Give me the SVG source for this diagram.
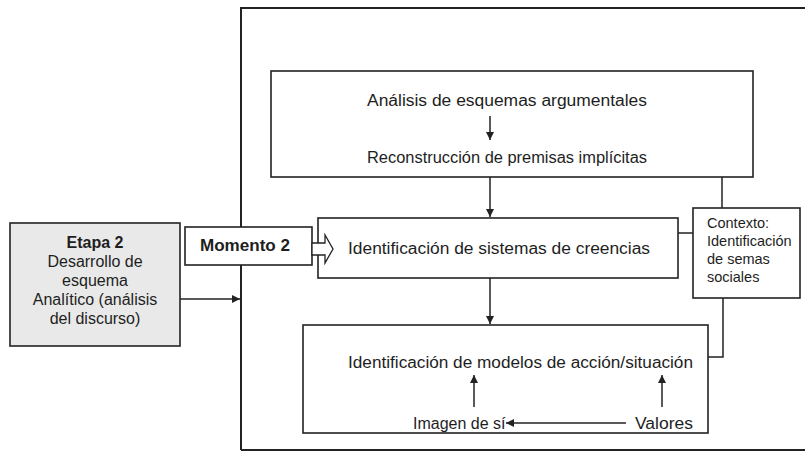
<svg xmlns="http://www.w3.org/2000/svg" width="805" height="452" viewBox="0 0 805 452">
<style>
.box{fill:#fff;stroke:#222;stroke-width:1.6}
.gbox{fill:#e9e9e9;stroke:#222;stroke-width:1.6}
.ln{fill:none;stroke:#222;stroke-width:1.5}
.t{font-family:"Liberation Sans",Arial,sans-serif;font-size:16px;fill:#1e1e1e}
.s{font-family:"Liberation Sans",Arial,sans-serif;font-size:14.5px;fill:#1e1e1e}
.b{font-weight:bold}
</style>
<defs>
<marker id="ah" viewBox="0 0 10 10" refX="10" refY="5" markerWidth="9" markerHeight="8" markerUnits="userSpaceOnUse" orient="auto">
<path d="M0,0 L10,5 L0,10 Z" fill="#222"/>
</marker>
</defs>
<rect width="805" height="452" fill="#fff"/>
<g id="frame">
<path class="ln" d="M241,450 L241,8 L812,8 M241,450 L812,450" style="stroke-width:2"/>
</g>
<g id="etapa2">
<rect class="gbox" x="10" y="223" width="170" height="123"/>
<text class="t b" x="95" y="248" text-anchor="middle">Etapa 2</text>
<text class="t" x="95" y="267" text-anchor="middle">Desarrollo de</text>
<text class="t" x="95" y="286" text-anchor="middle">esquema</text>
<text class="t" x="95" y="305" text-anchor="middle">Analítico (análisis</text>
<text class="t" x="95" y="324" text-anchor="middle">del discurso)</text>
</g>
<g id="momento2">
<rect class="box" x="185" y="227" width="127" height="38"/>
<text class="t b" x="200" y="251" textLength="90" lengthAdjust="spacingAndGlyphs">Momento 2</text>
</g>
<g id="analisis">
<rect class="box" x="271" y="71" width="482" height="106"/>
<text class="t" x="367" y="106" textLength="280" lengthAdjust="spacingAndGlyphs">Análisis de esquemas argumentales</text>
<text class="t" x="367" y="163" textLength="280" lengthAdjust="spacingAndGlyphs">Reconstrucción de premisas implícitas</text>
</g>
<g id="sistemas">
<rect class="box" x="318" y="218" width="360" height="60"/>
<text class="t" x="348" y="254" textLength="302" lengthAdjust="spacingAndGlyphs">Identificación de sistemas de creencias</text>
</g>
<g id="contexto">
<rect class="box" x="693" y="208" width="107" height="90"/>
<text class="s" x="707" y="228">Contexto:</text>
<text class="s" x="707" y="246">Identificación</text>
<text class="s" x="707" y="264">de semas</text>
<text class="s" x="707" y="282">sociales</text>
</g>
<g id="modelos">
<rect class="box" x="303" y="325" width="405" height="108"/>
<text class="t" x="348" y="368" textLength="345" lengthAdjust="spacingAndGlyphs">Identificación de modelos de acción/situación</text>
<text class="t" x="413" y="429">Imagen de sí</text>
<text class="t" x="635" y="429" textLength="58" lengthAdjust="spacingAndGlyphs">Valores</text>
</g>
<g id="connectors">
<line class="ln" x1="180" y1="299" x2="240" y2="299" marker-end="url(#ah)"/>
<line class="ln" x1="490" y1="116" x2="490" y2="140" marker-end="url(#ah)"/>
<line class="ln" x1="490" y1="177" x2="490" y2="217" marker-end="url(#ah)"/>
<line class="ln" x1="490" y1="278" x2="490" y2="324" marker-end="url(#ah)"/>
<polyline class="ln" points="722,177 722,208"/>
<polyline class="ln" points="678,233 693,233"/>
<polyline class="ln" points="723,298 723,357 708,357"/>
<line class="ln" x1="474" y1="407" x2="474" y2="375" marker-end="url(#ah)"/>
<line class="ln" x1="662" y1="407" x2="662" y2="375" marker-end="url(#ah)"/>
<line class="ln" x1="626" y1="423" x2="506" y2="423" marker-end="url(#ah)"/>
<path class="box" d="M312,243 L325,243 L325,235 L333,249 L325,263 L325,255 L312,255 Z" style="stroke-width:1.3"/>
</g>
</svg>
